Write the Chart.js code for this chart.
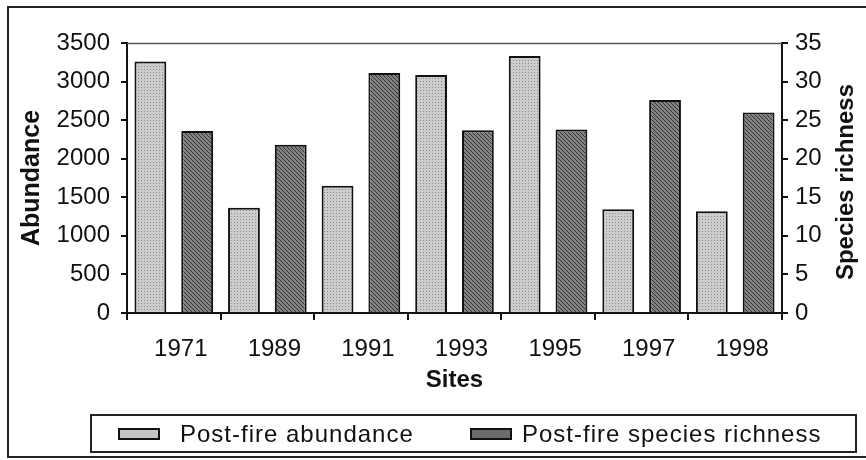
<!DOCTYPE html>
<html>
<head>
<meta charset="utf-8">
<script src="https://cdn.jsdelivr.net/npm/chart.js@4.4.1/dist/chart.umd.min.js"></script>
<style>
  html, body { margin: 0; padding: 0; background: #fff; }
  #wrap { position: relative; width: 866px; height: 460px; overflow: hidden; }
  #legend { position: absolute; left: 90px; top: 414px; width: 763px; height: 35px;
    border: 2px solid #222; font-family: "Liberation Sans", Arial, sans-serif; font-size: 24px;
    letter-spacing: 1px; color: #111; }
  .item { position: absolute; top: 0; height: 35px; line-height: 35px; white-space: nowrap; }
  .sw { position: absolute; top: 12px; width: 38px; height: 8px; border: 2px solid #111; }
  .lbl { position: absolute; top: 0; }
</style>
</head>
<body>
<div id="wrap">
  <canvas id="c" width="866" height="460"></canvas>
  <div id="legend"></div>
</div>
<script>
// ---- data ----
const sites = ['1971', '1989', '1991', '1993', '1995', '1997', '1998'];
const abundance = [3260, 1365, 1650, 3085, 3330, 1345, 1320];
const richness = [23.6, 21.8, 31.1, 23.7, 23.8, 27.6, 26.0];
const abundanceTicks = [0, 500, 1000, 1500, 2000, 2500, 3000, 3500];
const richnessTicks = [0, 5, 10, 15, 20, 25, 30, 35];
const seriesNames = ['Post-fire abundance', 'Post-fire species richness'];

// ---- fill patterns (scanned-look textures) ----
function makePattern(size, base, dark, pts) {
  const t = document.createElement('canvas');
  t.width = size; t.height = size;
  const g = t.getContext('2d');
  g.fillStyle = base; g.fillRect(0, 0, size, size);
  g.fillStyle = dark;
  pts.forEach(p => g.fillRect(p[0], p[1], 1, 1));
  return g.createPattern(t, 'repeat');
}
const ctx = document.getElementById('c').getContext('2d');
const lightFill = makePattern(3, '#cdcdcd', '#8a8a8a', [[0, 0]]);
const darkFill = makePattern(4, '#828282', '#343434', [[0, 0], [1, 1], [2, 2], [3, 3]]);

const FONT = '"Liberation Sans", Arial, sans-serif';
const plain = v => String(v);

const decor = {
  id: 'decor',
  beforeDraw(chart) {
    const c = chart.ctx;
    c.save();
    c.fillStyle = '#fff';
    c.fillRect(0, 0, chart.width, chart.height);
    c.restore();
  },
  afterDraw(chart) {
    const c = chart.ctx, a = chart.chartArea;
    c.save();
    // outer frame
    c.strokeStyle = '#222'; c.lineWidth = 2;
    c.strokeRect(8, 7, 880, 450);
    // plot area top edge
    c.strokeStyle = '#555'; c.lineWidth = 1.5;
    c.beginPath(); c.moveTo(a.left, a.top + 0.5); c.lineTo(a.right, a.top + 0.5); c.stroke();
    // right axis title (reads bottom to top)
    c.fillStyle = '#111';
    c.font = 'bold 24px ' + FONT;
    c.textAlign = 'center'; c.textBaseline = 'middle';
    c.translate(846, 182);
    c.rotate(-Math.PI / 2);
    c.fillText('Species richness', 0, 0);
    c.restore();
  }
};

new Chart(ctx, {
  type: 'bar',
  data: {
    labels: sites,
    datasets: [
      { label: seriesNames[0], data: abundance, yAxisID: 'y', backgroundColor: lightFill,
        borderColor: '#111', borderWidth: 2, categoryPercentage: 1.0, barPercentage: 0.68 },
      { label: seriesNames[1], data: richness, yAxisID: 'y1', backgroundColor: darkFill,
        borderColor: '#111', borderWidth: 2, categoryPercentage: 1.0, barPercentage: 0.68 }
    ]
  },
  options: {
    responsive: false,
    animation: false,
    events: [],
    layout: { padding: { left: 8, right: 8, top: 43, bottom: 0 } },
    plugins: { legend: { display: false }, tooltip: { enabled: false } },
    scales: {
      x: {
        offset: true,
        grid: { display: true, drawOnChartArea: false, offset: true, tickLength: 7, color: '#111', lineWidth: 2 },
        border: { display: true, color: '#111', width: 2 },
        ticks: { color: '#111', font: { family: FONT, size: 24 }, padding: 15, labelOffset: 7, maxRotation: 0 },
        title: { display: true, text: 'Sites', color: '#111', font: { family: FONT, size: 24, weight: 'bold' },
                 padding: { top: 0, bottom: 65 } },
        afterFit(s) { s.height = 147; }
      },
      y: {
        position: 'left',
        min: 0, max: 3500,
        afterBuildTicks(s) { s.ticks = abundanceTicks.map(v => ({ value: v })); },
        grid: { display: true, drawOnChartArea: false, tickLength: 6, color: '#111', lineWidth: 2 },
        border: { display: true, color: '#111', width: 2 },
        ticks: { color: '#111', font: { family: FONT, size: 24 }, padding: 11, callback: plain },
        title: { display: true, text: 'Abundance', color: '#111', font: { family: FONT, size: 25, weight: 'bold' },
                 padding: { top: 9, bottom: 0 } },
        afterFit(s) { s.width = 119; }
      },
      y1: {
        position: 'right',
        min: 0, max: 35,
        afterBuildTicks(s) { s.ticks = richnessTicks.map(v => ({ value: v })); },
        grid: { display: true, drawOnChartArea: false, tickLength: 6, color: '#111', lineWidth: 2 },
        border: { display: true, color: '#111', width: 2 },
        ticks: { color: '#111', font: { family: FONT, size: 24 }, padding: 7, callback: plain },
        afterFit(s) { s.width = 76; }
      }
    }
  },
  plugins: [decor]
});

// ---- HTML legend built from the dataset names ----
const legend = document.getElementById('legend');
const legendItems = [
  { name: seriesNames[0], fill: '#c4c4c4', sw: 26, txt: 88 },
  { name: seriesNames[1], fill: '#6c6c6c', sw: 378, txt: 430 }
];
legendItems.forEach(it => {
  const sw = document.createElement('div');
  sw.className = 'sw'; sw.style.left = it.sw + 'px'; sw.style.background = it.fill;
  const lb = document.createElement('div');
  lb.className = 'item lbl'; lb.style.left = it.txt + 'px'; lb.textContent = it.name;
  legend.appendChild(sw); legend.appendChild(lb);
});
</script>
</body>
</html>
